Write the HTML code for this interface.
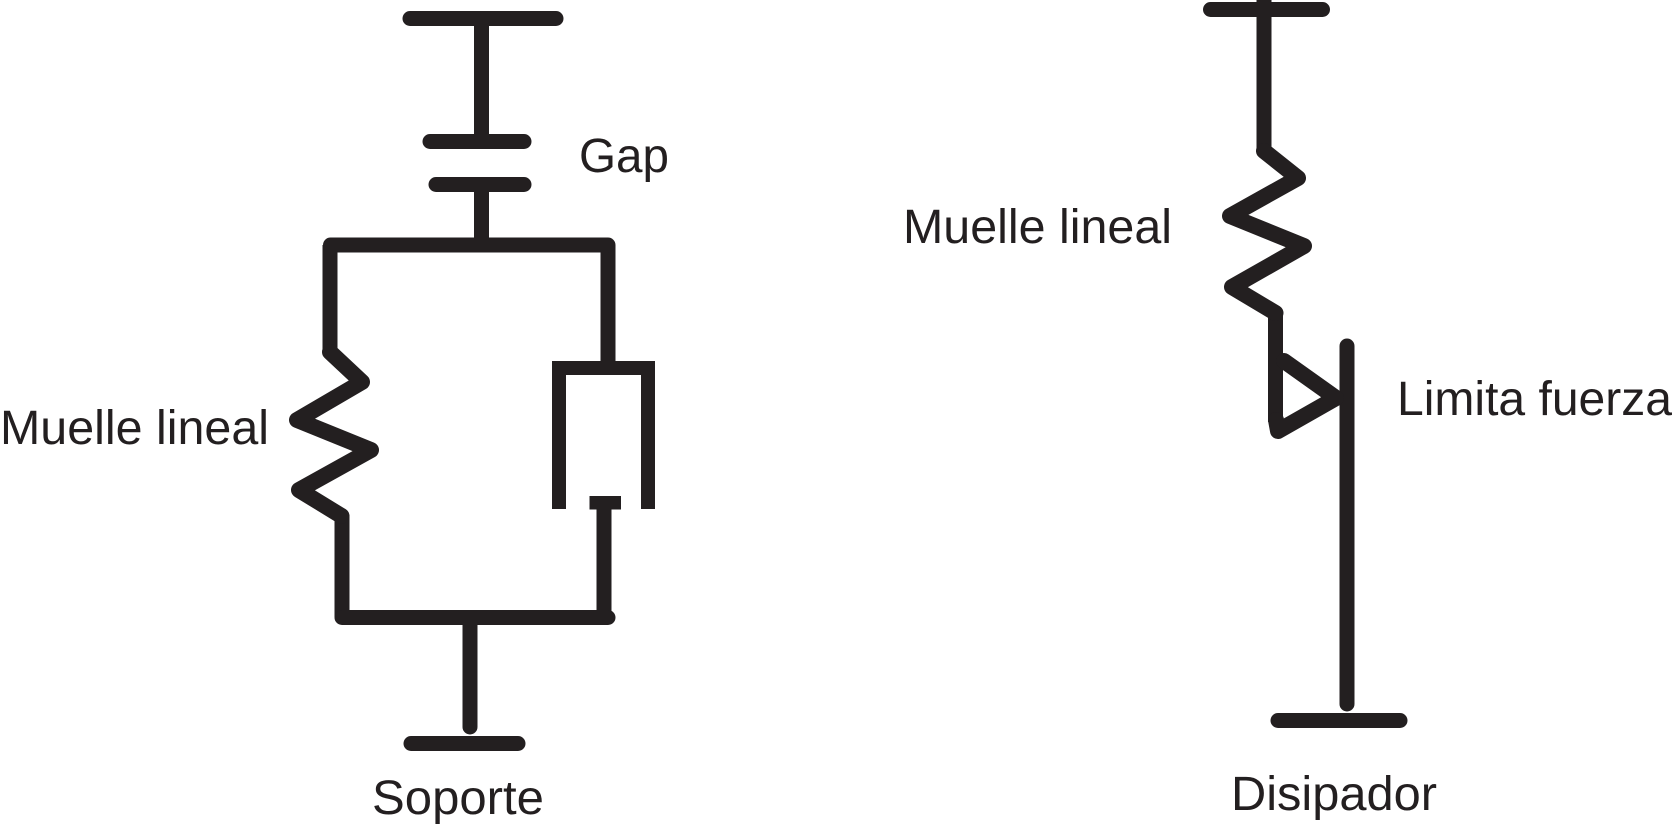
<!DOCTYPE html>
<html><head><meta charset="utf-8"><style>
html,body{margin:0;padding:0;background:#fff}
svg{display:block}
text{font-family:"Liberation Sans",sans-serif;font-size:48px;fill:#231f20}
</style></head><body>
<svg width="1674" height="826" viewBox="0 0 1674 826" xmlns="http://www.w3.org/2000/svg">
<rect width="1674" height="826" fill="#fff"/>
<g fill="none" stroke="#231f20" stroke-width="15" stroke-linejoin="round">
<!-- Left -->
<path d="M481.500 18V141"/>
<path d="M481.500 185V245"/>
<path d="M330 245V353"/>
<path d="M342 515V617"/>
<path d="M608 245V368"/>
<path d="M559 509V368H648V509" stroke-linejoin="miter" stroke-width="14"/>
<path d="M604 503V617"/>
<path d="M470 620V727" stroke-linecap="round"/>
<!-- Right -->
<path d="M1264 0V152"/>
<path d="M1275.500 312V422"/>
<path d="M1347 346V704" stroke-linecap="round"/>
</g>
<g fill="none" stroke="#231f20" stroke-width="16" stroke-linejoin="round" stroke-linecap="round">
<path d="M330 352L362 382L297 420L371 450L299 490L341.500 516"/>
<path d="M1264 151L1298 178L1230 216L1304 246L1232 287L1275.500 313"/>
<path d="M1276 420L1278 431L1336 398L1284 361"/>
</g>
<g stroke="#231f20" stroke-width="15" stroke-linecap="round" fill="none">
<path d="M410 18.500H556"/>
<path d="M430 141.500H524"/>
<path d="M436 184.500H524"/>
<path d="M330.500 245H608"/>
<path d="M342 617.500H608"/>
<path d="M411 743.500H518"/>
<path d="M1210.500 9.500H1322.500"/>
<path d="M1278 720.500H1400"/>
</g>
<rect x="552" y="361" width="102" height="14" fill="#231f20"/>
<rect x="589.500" y="496" width="31.500" height="13.500" fill="#231f20"/>
<text x="579" y="172" textLength="90" lengthAdjust="spacingAndGlyphs">Gap</text>
<text x="0" y="444" textLength="269" lengthAdjust="spacingAndGlyphs">Muelle lineal</text>
<text x="372" y="814" textLength="172" lengthAdjust="spacingAndGlyphs">Soporte</text>
<text x="903" y="243" textLength="269" lengthAdjust="spacingAndGlyphs">Muelle lineal</text>
<text x="1397" y="415" textLength="275" lengthAdjust="spacingAndGlyphs">Limita fuerza</text>
<text x="1231" y="810" textLength="206" lengthAdjust="spacingAndGlyphs">Disipador</text>
</svg>
</body></html>
